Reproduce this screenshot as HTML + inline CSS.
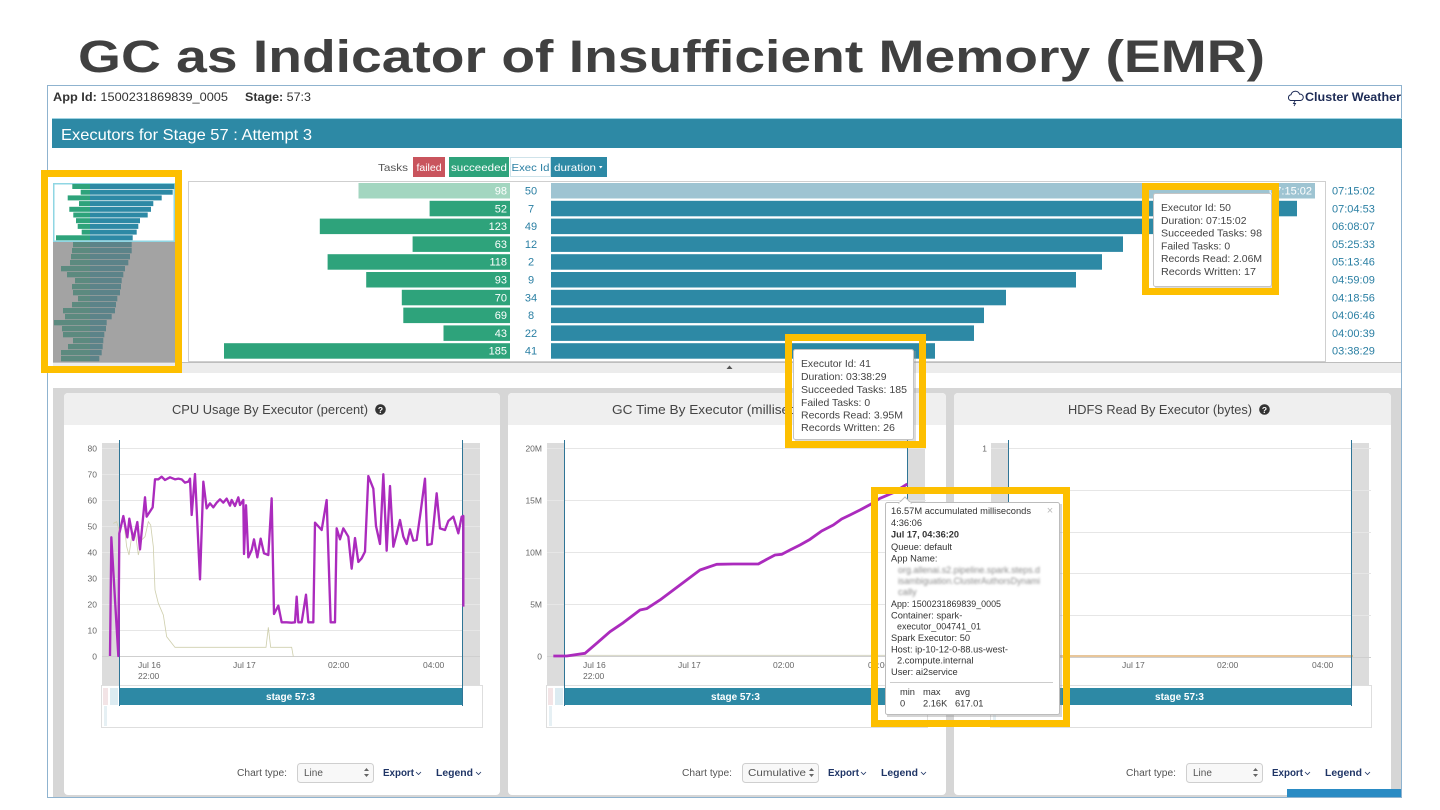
<!DOCTYPE html>
<html><head><meta charset="utf-8"><style>
html,body{margin:0;padding:0;background:#fff;}
svg{display:block;font-family:"Liberation Sans",Arial,sans-serif;}
</style></head><body>
<svg width="1440" height="810" viewBox="0 0 1440 810" xmlns="http://www.w3.org/2000/svg">
<defs>
<filter id="blur" x="-10%" y="-50%" width="120%" height="200%"><feGaussianBlur stdDeviation="1.1"/></filter>
</defs>
<rect width="1440" height="810" fill="#fff"/>

<!-- Title -->
<text x="78" y="72" font-size="45" font-weight="bold" fill="#404040" textLength="1187" lengthAdjust="spacingAndGlyphs">GC as Indicator of Insufficient Memory (EMR)</text>

<!-- App frame -->
<rect x="47.5" y="85.5" width="1354" height="712" fill="none" stroke="#8fb3cf" stroke-width="1"/>
<text x="53" y="101" font-size="12" fill="#333" textLength="175" lengthAdjust="spacingAndGlyphs"><tspan font-weight="bold">App Id:</tspan> 1500231869839_0005</text>
<text x="245" y="101" font-size="12" fill="#333" textLength="66" lengthAdjust="spacingAndGlyphs"><tspan font-weight="bold">Stage:</tspan> 57:3</text>
<!-- cloud -->
<path d="M1290.5,100.5 a3,3 0 0 1 0.5,-5.8 a4.5,4.5 0 0 1 8.6,-0.5 a3,3 0 0 1 1,6.3 z" fill="none" stroke="#1c2a55" stroke-width="1"/>
<path d="M1295,101 l-1.5,2.5 h2 l-1.5,2.5" fill="none" stroke="#1c2a55" stroke-width="0.9"/>
<text x="1305" y="101" font-size="12" font-weight="bold" fill="#1c2a55" textLength="96" lengthAdjust="spacingAndGlyphs">Cluster Weather</text>

<!-- Teal header -->
<rect x="52" y="118" width="1350" height="1" fill="#9fd3e2"/>
<rect x="52" y="119" width="1350" height="29" fill="#2d89a5"/>
<text x="61" y="140" font-size="16" fill="#fff" textLength="251" lengthAdjust="spacingAndGlyphs">Executors for Stage 57 : Attempt 3</text>

<!-- Tasks legend -->
<text x="378" y="171" font-size="10.5" fill="#555" textLength="30" lengthAdjust="spacingAndGlyphs">Tasks</text>
<rect x="413" y="157" width="32" height="20" fill="#c9545d"/>
<text x="429" y="171" font-size="10.5" fill="#fff" text-anchor="middle">failed</text>
<rect x="449" y="157" width="60" height="20" fill="#2ea37b"/>
<text x="479" y="171" font-size="10.5" fill="#fff" text-anchor="middle" textLength="56" lengthAdjust="spacingAndGlyphs">succeeded</text>
<rect x="510.5" y="157.5" width="40" height="19" fill="#fff" stroke="#cfe3ea"/>
<text x="530.5" y="171" font-size="10.5" fill="#2a7fa3" text-anchor="middle" textLength="38" lengthAdjust="spacingAndGlyphs">Exec Id</text>
<rect x="551" y="157" width="56" height="20" fill="#2d89a5"/>
<text x="554" y="171" font-size="10.5" fill="#fff" textLength="42" lengthAdjust="spacingAndGlyphs">duration</text>
<path d="M599,166 l3.5,0 l-1.75,2.5 z" fill="#fff"/>

<!-- Minimap -->
<rect x="53" y="183" width="122" height="180" fill="#a3a3a3"/>
<rect x="53.75" y="183.75" width="120.5" height="57.5" fill="#fff" stroke="#8fd6e3" stroke-width="1.5"/>
<g>
<rect x="72.3" y="184" width="17.7" height="5" fill="#2ea37b"/><rect x="90" y="184" width="84.3" height="5" fill="#2d89a5"/>
<rect x="80.7" y="189.7" width="9.3" height="5" fill="#2ea37b"/><rect x="90" y="189.7" width="82.7" height="5" fill="#2d89a5"/>
<rect x="67.7" y="195.4" width="22.3" height="5" fill="#2ea37b"/><rect x="90" y="195.4" width="71.7" height="5" fill="#2d89a5"/>
<rect x="79" y="201.1" width="11" height="5" fill="#2ea37b"/><rect x="90" y="201.1" width="63.3" height="5" fill="#2d89a5"/>
<rect x="69.3" y="206.8" width="20.7" height="5" fill="#2ea37b"/><rect x="90" y="206.8" width="61" height="5" fill="#2d89a5"/>
<rect x="73.3" y="212.5" width="16.7" height="5" fill="#2ea37b"/><rect x="90" y="212.5" width="57.7" height="5" fill="#2d89a5"/>
<rect x="76" y="218.2" width="14" height="5" fill="#2ea37b"/><rect x="90" y="218.2" width="50" height="5" fill="#2d89a5"/>
<rect x="77.7" y="223.9" width="12.3" height="5" fill="#2ea37b"/><rect x="90" y="223.9" width="48.3" height="5" fill="#2d89a5"/>
<rect x="81.7" y="229.6" width="8.3" height="5" fill="#2ea37b"/><rect x="90" y="229.6" width="46.7" height="5" fill="#2d89a5"/>
<rect x="56" y="235.3" width="34" height="5" fill="#2ea37b"/><rect x="90" y="235.3" width="42.7" height="5" fill="#2d89a5"/>
</g>
<g>
<rect x="73" y="242" width="17" height="5.3" fill="#5c8a7f"/><rect x="90" y="242" width="41.7" height="5.3" fill="#5c8389"/>
<rect x="72" y="248" width="18" height="5.3" fill="#5c8a7f"/><rect x="90" y="248" width="41.7" height="5.3" fill="#5c8389"/>
<rect x="71" y="254" width="19" height="5.3" fill="#5c8a7f"/><rect x="90" y="254" width="40" height="5.3" fill="#5c8389"/>
<rect x="70" y="260" width="20" height="5.3" fill="#5c8a7f"/><rect x="90" y="260" width="38.3" height="5.3" fill="#5c8389"/>
<rect x="61" y="266" width="29" height="5.3" fill="#5c8a7f"/><rect x="90" y="266" width="35" height="5.3" fill="#5c8389"/>
<rect x="67" y="272" width="23" height="5.3" fill="#5c8a7f"/><rect x="90" y="272" width="33.3" height="5.3" fill="#5c8389"/>
<rect x="75" y="278" width="15" height="5.3" fill="#5c8a7f"/><rect x="90" y="278" width="31.7" height="5.3" fill="#5c8389"/>
<rect x="72" y="284" width="18" height="5.3" fill="#5c8a7f"/><rect x="90" y="284" width="31" height="5.3" fill="#5c8389"/>
<rect x="73" y="290" width="17" height="5.3" fill="#5c8a7f"/><rect x="90" y="290" width="30" height="5.3" fill="#5c8389"/>
<rect x="78" y="296" width="12" height="5.3" fill="#5c8a7f"/><rect x="90" y="296" width="27.3" height="5.3" fill="#5c8389"/>
<rect x="72" y="302" width="18" height="5.3" fill="#5c8a7f"/><rect x="90" y="302" width="26" height="5.3" fill="#5c8389"/>
<rect x="63" y="308" width="27" height="5.3" fill="#5c8a7f"/><rect x="90" y="308" width="25" height="5.3" fill="#5c8389"/>
<rect x="65" y="314" width="25" height="5.3" fill="#5c8a7f"/><rect x="90" y="314" width="21.7" height="5.3" fill="#5c8389"/>
<rect x="54" y="320" width="36" height="5.3" fill="#5c8a7f"/><rect x="90" y="320" width="16.7" height="5.3" fill="#5c8389"/>
<rect x="62" y="326" width="28" height="5.3" fill="#5c8a7f"/><rect x="90" y="326" width="16" height="5.3" fill="#5c8389"/>
<rect x="63" y="332" width="27" height="5.3" fill="#5c8a7f"/><rect x="90" y="332" width="14.3" height="5.3" fill="#5c8389"/>
<rect x="73" y="338" width="17" height="5.3" fill="#5c8a7f"/><rect x="90" y="338" width="13.3" height="5.3" fill="#5c8389"/>
<rect x="68" y="344" width="22" height="5.3" fill="#5c8a7f"/><rect x="90" y="344" width="12.7" height="5.3" fill="#5c8389"/>
<rect x="61" y="350" width="29" height="5.3" fill="#5c8a7f"/><rect x="90" y="350" width="11.7" height="5.3" fill="#5c8389"/>
<rect x="61" y="356" width="29" height="5.3" fill="#5c8a7f"/><rect x="90" y="356" width="9.3" height="5.3" fill="#5c8389"/>
</g>

<!-- Main bar box -->
<rect x="188.5" y="181.5" width="1137" height="180" fill="#fff" stroke="#cfcfcf"/>
<g font-size="11">
<!-- row 0 -->
<rect x="358.5" y="183" width="151.5" height="15.5" fill="#a3d6c0"/>
<rect x="551" y="183" width="764" height="15.5" fill="#9ec4d2"/>
<text x="507" y="194.5" fill="#fff" text-anchor="end">98</text>
<text x="531" y="194.5" fill="#2a7fa3" text-anchor="middle">50</text>
<text x="1312" y="194.5" fill="#fff" text-anchor="end">07:15:02</text>
<text x="1332" y="194.5" fill="#2a7fa3">07:15:02</text>
<!-- row 1 -->
<rect x="429.6" y="200.8" width="80.4" height="15.5" fill="#2ea37b"/>
<rect x="551" y="200.8" width="746" height="15.5" fill="#2d89a5"/>
<text x="507" y="212.3" fill="#fff" text-anchor="end">52</text>
<text x="531" y="212.3" fill="#2a7fa3" text-anchor="middle">7</text>
<text x="1332" y="212.3" fill="#2a7fa3">07:04:53</text>
<!-- row 2 -->
<rect x="319.8" y="218.6" width="190.2" height="15.5" fill="#2ea37b"/>
<rect x="551" y="218.6" width="647" height="15.5" fill="#2d89a5"/>
<text x="507" y="230.1" fill="#fff" text-anchor="end">123</text>
<text x="531" y="230.1" fill="#2a7fa3" text-anchor="middle">49</text>
<text x="1332" y="230.1" fill="#2a7fa3">06:08:07</text>
<!-- row 3 -->
<rect x="412.6" y="236.4" width="97.4" height="15.5" fill="#2ea37b"/>
<rect x="551" y="236.4" width="572" height="15.5" fill="#2d89a5"/>
<text x="507" y="247.9" fill="#fff" text-anchor="end">63</text>
<text x="531" y="247.9" fill="#2a7fa3" text-anchor="middle">12</text>
<text x="1332" y="247.9" fill="#2a7fa3">05:25:33</text>
<!-- row 4 -->
<rect x="327.6" y="254.2" width="182.4" height="15.5" fill="#2ea37b"/>
<rect x="551" y="254.2" width="551" height="15.5" fill="#2d89a5"/>
<text x="507" y="265.7" fill="#fff" text-anchor="end">118</text>
<text x="531" y="265.7" fill="#2a7fa3" text-anchor="middle">2</text>
<text x="1332" y="265.7" fill="#2a7fa3">05:13:46</text>
<!-- row 5 -->
<rect x="366.2" y="272" width="143.8" height="15.5" fill="#2ea37b"/>
<rect x="551" y="272" width="525" height="15.5" fill="#2d89a5"/>
<text x="507" y="283.5" fill="#fff" text-anchor="end">93</text>
<text x="531" y="283.5" fill="#2a7fa3" text-anchor="middle">9</text>
<text x="1332" y="283.5" fill="#2a7fa3">04:59:09</text>
<!-- row 6 -->
<rect x="401.8" y="289.8" width="108.2" height="15.5" fill="#2ea37b"/>
<rect x="551" y="289.8" width="455" height="15.5" fill="#2d89a5"/>
<text x="507" y="301.3" fill="#fff" text-anchor="end">70</text>
<text x="531" y="301.3" fill="#2a7fa3" text-anchor="middle">34</text>
<text x="1332" y="301.3" fill="#2a7fa3">04:18:56</text>
<!-- row 7 -->
<rect x="403.3" y="307.6" width="106.7" height="15.5" fill="#2ea37b"/>
<rect x="551" y="307.6" width="433" height="15.5" fill="#2d89a5"/>
<text x="507" y="319.1" fill="#fff" text-anchor="end">69</text>
<text x="531" y="319.1" fill="#2a7fa3" text-anchor="middle">8</text>
<text x="1332" y="319.1" fill="#2a7fa3">04:06:46</text>
<!-- row 8 -->
<rect x="443.5" y="325.4" width="66.5" height="15.5" fill="#2ea37b"/>
<rect x="551" y="325.4" width="423" height="15.5" fill="#2d89a5"/>
<text x="507" y="336.9" fill="#fff" text-anchor="end">43</text>
<text x="531" y="336.9" fill="#2a7fa3" text-anchor="middle">22</text>
<text x="1332" y="336.9" fill="#2a7fa3">04:00:39</text>
<!-- row 9 -->
<rect x="224" y="343.2" width="286" height="15.5" fill="#2ea37b"/>
<rect x="551" y="343.2" width="384" height="15.5" fill="#2d89a5"/>
<text x="507" y="354.7" fill="#fff" text-anchor="end">185</text>
<text x="531" y="354.7" fill="#2a7fa3" text-anchor="middle">41</text>
<text x="1332" y="354.7" fill="#2a7fa3">03:38:29</text>
</g>

<!-- collapse bar -->
<rect x="53" y="362" width="1348" height="11" fill="#ececec"/>
<line x1="53" y1="362.5" x2="1401" y2="362.5" stroke="#bdbdbd"/>
<path d="M726.5,369 l3,-3.5 l3,3.5 z" fill="#555"/>

<!-- Charts region background -->
<rect x="53" y="388" width="1348" height="409" fill="#d6d6d6"/>

<!-- Panels -->
<g>
<path d="M64,397 a4,4 0 0 1 4,-4 h428 a4,4 0 0 1 4,4 v394 a4,4 0 0 1 -4,4 h-428 a4,4 0 0 1 -4,-4 z" fill="#fff"/>
<path d="M64,397 a4,4 0 0 1 4,-4 h428 a4,4 0 0 1 4,4 v28 h-436 z" fill="#efefef"/>
<path d="M508,397 a4,4 0 0 1 4,-4 h430 a4,4 0 0 1 4,4 v394 a4,4 0 0 1 -4,4 h-430 a4,4 0 0 1 -4,-4 z" fill="#fff"/>
<path d="M508,397 a4,4 0 0 1 4,-4 h430 a4,4 0 0 1 4,4 v28 h-438 z" fill="#efefef"/>
<path d="M954,397 a4,4 0 0 1 4,-4 h429 a4,4 0 0 1 4,4 v394 a4,4 0 0 1 -4,4 h-429 a4,4 0 0 1 -4,-4 z" fill="#fff"/>
<path d="M954,397 a4,4 0 0 1 4,-4 h429 a4,4 0 0 1 4,4 v28 h-437 z" fill="#efefef"/>
</g>
<!-- Panel titles -->
<text x="172" y="414" font-size="12.5" fill="#444" textLength="196" lengthAdjust="spacingAndGlyphs">CPU Usage By Executor (percent)</text>
<circle cx="380.5" cy="409.5" r="5.3" fill="#333"/><text x="380.5" y="413" font-size="8.5" font-weight="bold" fill="#fff" text-anchor="middle">?</text>
<text x="612" y="414" font-size="12.5" fill="#444" textLength="218" lengthAdjust="spacingAndGlyphs">GC Time By Executor (milliseconds)</text>
<text x="1068" y="414" font-size="12.5" fill="#444" textLength="184" lengthAdjust="spacingAndGlyphs">HDFS Read By Executor (bytes)</text>
<circle cx="1264.5" cy="409.5" r="5.3" fill="#333"/><text x="1264.5" y="413" font-size="8.5" font-weight="bold" fill="#fff" text-anchor="middle">?</text>

<!-- Chart template x3 -->
<g id="chartbase">
<rect x="102" y="443" width="378" height="242" fill="#dcdcdc"/>
<rect x="119" y="443" width="343" height="242" fill="#fff"/>
</g>
<use href="#chartbase" x="445"/>
<use href="#chartbase" x="889"/>

<!-- CPU grid -->
<g stroke="#e6e6e6" stroke-width="1">
<line x1="102" x2="480" y1="448.5" y2="448.5"/><line x1="102" x2="480" y1="474.5" y2="474.5"/>
<line x1="102" x2="480" y1="500.5" y2="500.5"/><line x1="102" x2="480" y1="526.5" y2="526.5"/>
<line x1="102" x2="480" y1="552.5" y2="552.5"/><line x1="102" x2="480" y1="578.5" y2="578.5"/>
<line x1="102" x2="480" y1="604.5" y2="604.5"/><line x1="102" x2="480" y1="630.5" y2="630.5"/>
</g>
<line x1="102" x2="480" y1="656.5" y2="656.5" stroke="#cfcfcf"/>
<g font-size="8.5" fill="#666" text-anchor="end">
<text x="97" y="451.5">80</text><text x="97" y="477.5">70</text><text x="97" y="503.5">60</text>
<text x="97" y="529.5">50</text><text x="97" y="555.5">40</text><text x="97" y="581.5">30</text>
<text x="97" y="607.5">20</text><text x="97" y="633.5">10</text><text x="97" y="659.5">0</text>
</g>
<!-- GC grid -->
<g stroke="#e6e6e6" stroke-width="1">
<line x1="547" x2="926" y1="448.5" y2="448.5"/><line x1="547" x2="926" y1="500.5" y2="500.5"/>
<line x1="547" x2="926" y1="552.5" y2="552.5"/><line x1="547" x2="926" y1="604.5" y2="604.5"/>
</g>
<line x1="547" x2="926" y1="656.5" y2="656.5" stroke="#cfcfcf"/>
<g font-size="8.5" fill="#666" text-anchor="end">
<text x="542" y="451.5">20M</text><text x="542" y="503.5">15M</text><text x="542" y="555.5">10M</text>
<text x="542" y="607.5">5M</text><text x="542" y="659.5">0</text>
</g>
<!-- HDFS grid -->
<g stroke="#e6e6e6" stroke-width="1">
<line x1="991" x2="1371" y1="448.5" y2="448.5"/><line x1="991" x2="1371" y1="490.5" y2="490.5"/>
<line x1="991" x2="1371" y1="532.5" y2="532.5"/><line x1="991" x2="1371" y1="573.5" y2="573.5"/>
<line x1="991" x2="1371" y1="615.5" y2="615.5"/>
</g>
<line x1="991" x2="1371" y1="657.5" y2="657.5" stroke="#cfcfcf"/>
<g font-size="8.5" fill="#666" text-anchor="end">
<text x="987" y="451.5">1</text><text x="987" y="493.5">0.8</text><text x="987" y="535.5">0.6</text>
<text x="987" y="576.5">0.4</text><text x="987" y="618.5">0.2</text><text x="987" y="660.5">0</text>
</g>
<line x1="1010" x2="1353" y1="656" y2="656" stroke="#d9a55e" stroke-width="1.2"/>

<!-- x labels, stage bars, navigators, controls -->
<g id="chartfront">
<g font-size="8.5" fill="#666">
<text x="138" y="668">Jul 16</text><text x="138" y="679">22:00</text>
<text x="233" y="668">Jul 17</text><text x="328" y="668">02:00</text><text x="423" y="668">04:00</text>
</g>
<rect x="101.5" y="685.5" width="381" height="42" fill="none" stroke="#dedede"/>
<rect x="103" y="688" width="5" height="17" fill="#f3e4e6"/>
<rect x="110" y="688" width="8" height="17" fill="#dcebf1"/>
<rect x="104" y="706" width="3" height="20" fill="#e6f0f4"/>
<rect x="119" y="688" width="343" height="17" fill="#2d89a5"/>
<text x="290.5" y="700" font-size="10" font-weight="bold" fill="#fff" text-anchor="middle">stage 57:3</text>
<line x1="119.5" x2="119.5" y1="440" y2="706" stroke="#2f7596"/>
<line x1="462.5" x2="462.5" y1="440" y2="706" stroke="#2f7596"/>
<text x="237" y="776" font-size="10" fill="#555" textLength="50" lengthAdjust="spacingAndGlyphs">Chart type:</text>
<rect x="297.5" y="763.5" width="76" height="19" rx="3" fill="#f8f8f8" stroke="#cfcfcf"/>
<path d="M364,771 l2.5,-3 l2.5,3 z M364,774 l2.5,3 l2.5,-3 z" fill="#666"/>
<text x="383" y="776" font-size="10" font-weight="bold" fill="#1f3566" textLength="31" lengthAdjust="spacingAndGlyphs">Export</text>
<path d="M416,772 l2.5,2.5 l2.5,-2.5" fill="none" stroke="#1f3566" stroke-width="0.8"/>
<text x="436" y="776" font-size="10" font-weight="bold" fill="#1f3566" textLength="37" lengthAdjust="spacingAndGlyphs">Legend</text>
<path d="M476,772 l2.5,2.5 l2.5,-2.5" fill="none" stroke="#1f3566" stroke-width="0.8"/>
</g>
<use href="#chartfront" x="445"/>
<use href="#chartfront" x="889"/>
<text x="304" y="776" font-size="10" fill="#555">Line</text>
<text x="748" y="776" font-size="10" fill="#555" textLength="58" lengthAdjust="spacingAndGlyphs">Cumulative</text>
<text x="1193" y="776" font-size="10" fill="#555">Line</text>

<!-- CPU series (zoom coords) -->
<g transform="translate(50,390) scale(0.33333)">
<polyline fill="none" stroke="#cfcfae" stroke-width="2.5" points="190,400 200,395 210,430 220,380 230,470 237,495 245,440 255,420 265,495 275,450 285,440 295,395 302,405 310,470 315,600 325,640 340,675 350,740 375,772 648,772 655,712 662,772 725,772 730,800"/>
<polyline fill="none" stroke="#ab2bbd" stroke-width="7" stroke-linejoin="round" points="180,798 184,442 205,798 208,430 220,378 232,442 238,386 250,450 262,396 270,478 285,322 290,380 308,352 315,268 325,268 335,260 345,270 360,262 375,268 385,266 395,268 405,278 415,275 420,266 425,375 435,252 450,568 460,275 470,355 480,340 490,352 500,338 510,328 520,338 530,326 540,347 545,330 555,348 565,322 570,345 580,330 582,492 588,346 595,502 605,480 612,448 622,502 632,446 642,490 655,495 665,325 672,672 685,647 695,697 710,697 725,698 735,697 740,620 745,697 755,697 768,614 775,697 790,697 795,398 815,420 830,330 842,697 855,697 860,415 870,448 880,415 895,440 905,536 915,444 925,516 935,505 945,485 955,258 970,296 978,408 990,462 1000,253 1010,482 1020,288 1030,470 1040,432 1050,390 1060,440 1070,462 1080,418 1090,452 1100,450 1112,365 1125,266 1132,465 1145,462 1160,310 1170,415 1185,420 1195,393 1210,380 1225,430 1235,380 1240,378 1240,650"/>
</g>

<!-- GC series (zoom coords) -->
<g transform="translate(500,330) scale(0.33333)">
<line x1="160" y1="976" x2="1222" y2="976" stroke="#d6d6c4" stroke-width="3"/>
<polyline fill="none" stroke="#ab2bbd" stroke-width="8.5" stroke-linejoin="round" points="160,978 200,978 255,970 290,940 330,905 370,878 420,840 440,836 480,810 520,780 560,750 600,720 650,703 700,702 775,702 800,688 825,675 845,673 870,660 900,645 930,628 965,603 1000,585 1025,567 1050,555 1080,540 1110,524 1140,505 1180,488 1222,462"/>
</g>

<!-- Blue button bottom right -->
<rect x="1287" y="789" width="114" height="8" fill="#2a8bc4"/>

<!-- Tooltip 1 (exec 50) -->
<rect x="1155" y="195" width="119" height="94" fill="#999" opacity="0.35"/>
<rect x="1153.5" y="193.5" width="118" height="93" rx="2" fill="#fff" stroke="#c4c4c4"/>
<g font-size="10.4" fill="#444">
<text x="1161" y="211">Executor Id: 50</text>
<text x="1161" y="223.8">Duration: 07:15:02</text>
<text x="1161" y="236.6" textLength="101" lengthAdjust="spacingAndGlyphs">Succeeded Tasks: 98</text>
<text x="1161" y="249.4">Failed Tasks: 0</text>
<text x="1161" y="262.2" textLength="101" lengthAdjust="spacingAndGlyphs">Records Read: 2.06M</text>
<text x="1161" y="275" textLength="95" lengthAdjust="spacingAndGlyphs">Records Written: 17</text>
</g>

<!-- Tooltip 2 (exec 41) -->
<rect x="795" y="351" width="121" height="91" fill="#999" opacity="0.35"/>
<rect x="793.5" y="349.5" width="120" height="90" rx="2" fill="#fff" stroke="#c4c4c4"/>
<g font-size="10.4" fill="#444">
<text x="801" y="367">Executor Id: 41</text>
<text x="801" y="380">Duration: 03:38:29</text>
<text x="801" y="393" textLength="106" lengthAdjust="spacingAndGlyphs">Succeeded Tasks: 185</text>
<text x="801" y="406">Failed Tasks: 0</text>
<text x="801" y="418.5" textLength="102" lengthAdjust="spacingAndGlyphs">Records Read: 3.95M</text>
<text x="801" y="431" textLength="94" lengthAdjust="spacingAndGlyphs">Records Written: 26</text>
</g>

<!-- Tooltip 3 (GC) -->
<rect x="887" y="504" width="175" height="213" fill="#888" opacity="0.35"/>
<rect x="885.5" y="502.5" width="174" height="212" rx="2" fill="#fff" stroke="#bcbcbc"/>
<path d="M899,503 l6,-6 l6,6 z" fill="#fff" stroke="#bcbcbc"/>
<rect x="899.5" y="502" width="11" height="2" fill="#fff"/>
<g font-size="9.3" fill="#333">
<text x="891" y="514" textLength="140" lengthAdjust="spacingAndGlyphs">16.57M accumulated milliseconds</text>
<text x="1050" y="514" font-size="11" fill="#bbb" text-anchor="middle">×</text>
<text x="891" y="526">4:36:06</text>
<text x="891" y="537.5" font-weight="bold" fill="#333" textLength="68" lengthAdjust="spacingAndGlyphs">Jul 17, 04:36:20</text>
<text x="891" y="550">Queue: default</text>
<text x="891" y="561.5">App Name:</text>
<g filter="url(#blur)" fill="#8a8a8a">
<text x="898" y="573" textLength="142" lengthAdjust="spacingAndGlyphs">org.allenai.s2.pipeline.spark.steps.d</text>
<text x="898" y="584" textLength="142" lengthAdjust="spacingAndGlyphs">isambiguation.ClusterAuthorsDynami</text>
<text x="898" y="595">cally</text>
</g>
<text x="891" y="607" textLength="110" lengthAdjust="spacingAndGlyphs">App: 1500231869839_0005</text>
<text x="891" y="618.5">Container: spark-</text>
<text x="897" y="629.5" textLength="84" lengthAdjust="spacingAndGlyphs">executor_004741_01</text>
<text x="891" y="641">Spark Executor: 50</text>
<text x="891" y="652.5" textLength="117" lengthAdjust="spacingAndGlyphs">Host: ip-10-12-0-88.us-west-</text>
<text x="897" y="663.5">2.compute.internal</text>
<text x="891" y="675">User: ai2service</text>
<line x1="890" y1="682.5" x2="1053" y2="682.5" stroke="#ccc"/>
<text x="900" y="695">min</text><text x="923" y="695">max</text><text x="955" y="695">avg</text>
<text x="900" y="706.5">0</text><text x="923" y="706.5">2.16K</text><text x="955" y="706.5">617.01</text>
</g>

<!-- Yellow highlight boxes -->
<g fill="none" stroke="#fdbf00" stroke-width="7">
<rect x="44.5" y="173.5" width="134" height="196"/>
<rect x="1145.5" y="186.5" width="130" height="105"/>
<rect x="788.5" y="337.5" width="134" height="107"/>
<rect x="874.5" y="490.5" width="192" height="233"/>
</g>
</svg>
</body></html>
